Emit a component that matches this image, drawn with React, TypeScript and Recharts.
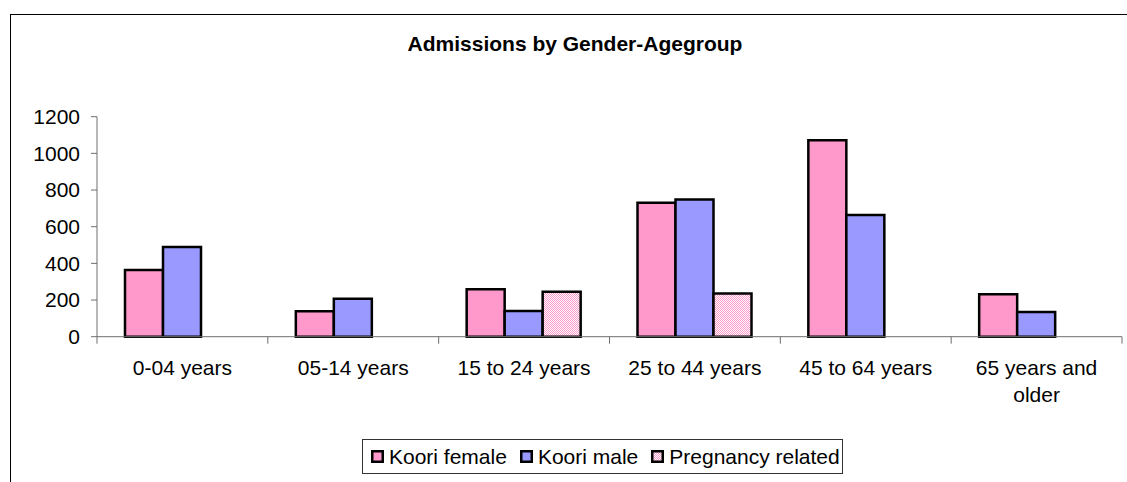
import React from 'react';
import { BarChart, Bar, XAxis, YAxis } from 'recharts';

const CATEGORIES = ['0-04 years', '05-14 years', '15 to 24 years', '25 to 44 years', '45 to 64 years', '65 years and older'];
const KOORI_FEMALE = [364, 139, 259, 731, 1071, 231];
const KOORI_MALE = [489, 207, 140, 749, 664, 135];
const PREGNANCY_RELATED: (number | null)[] = [null, null, 245, 235, null, null];
const Y_TICKS = [0, 200, 400, 600, 800, 1000, 1200];
const SERIES_NAMES = ['Koori female', 'Koori male', 'Pregnancy related'];

const FONT = '"Liberation Sans", Arial, Helvetica, sans-serif';
const FS = 21;
const PINK = '#FF99CC';
const BLUE = '#9999FF';
const AXIS = '#6e6e6e';

const W = 1127;
const H = 482;
const MARGIN = { top: 116.7, right: 5, bottom: 115.3, left: 0 };
const Y_W = 97;
const X_H = 30;
const BAND = (W - MARGIN.left - Y_W - MARGIN.right) / CATEGORIES.length;

const data = CATEGORIES.map((c, i) => ({
  name: c,
  female: KOORI_FEMALE[i],
  male: KOORI_MALE[i],
  preg: PREGNANCY_RELATED[i],
}));

let measureCtx: CanvasRenderingContext2D | null = null;
function measure(s: string): number {
  if (!measureCtx) {
    const c = document.createElement('canvas');
    measureCtx = c.getContext('2d');
  }
  if (!measureCtx) return s.length * FS * 0.5;
  measureCtx.font = `${FS}px ${FONT}`;
  return measureCtx.measureText(s).width;
}

function wrap(label: string, maxW: number): string[] {
  const words = label.split(' ');
  const lines: string[] = [];
  let cur = '';
  for (const w of words) {
    const t = cur ? cur + ' ' + w : w;
    if (cur && measure(t) > maxW) {
      lines.push(cur);
      cur = w;
    } else {
      cur = t;
    }
  }
  if (cur) lines.push(cur);
  return lines;
}

function XTick(props: any) {
  const { x, y, payload, index, visibleTicksCount } = props;
  const left = x - BAND / 2;
  const right = x + BAND / 2;
  const lines = wrap(String(payload.value), BAND - 20);
  return (
    <g>
      <line x1={left} y1={y} x2={left} y2={y + 7} stroke={AXIS} strokeWidth={1} />
      {index === visibleTicksCount - 1 ? (
        <line x1={right} y1={y} x2={right} y2={y + 7} stroke={AXIS} strokeWidth={1} />
      ) : null}
      <text x={x} y={y + 38.5} textAnchor="middle" fill="#000" fontSize={FS} fontFamily={FONT}>
        {lines.map((l, i) => (
          <tspan key={i} x={x} dy={i === 0 ? 0 : 27}>
            {l}
          </tspan>
        ))}
      </text>
    </g>
  );
}

function Swatch({ fill }: { fill: string }) {
  return (
    <svg width={13} height={13} style={{ display: 'block' }}>
      <defs>
        <pattern id="pregPatternLegend" width={2} height={2} patternUnits="userSpaceOnUse">
          <rect x={0} y={0} width={2} height={2} fill="#ffffff" />
          <rect x={0} y={0} width={1} height={1} fill={PINK} />
          <rect x={1} y={1} width={1} height={1} fill={PINK} />
        </pattern>
      </defs>
      <rect x={1.25} y={1.25} width={10.5} height={10.5} fill={fill} stroke="#000" strokeWidth={2.5} />
    </svg>
  );
}

export default function App() {
  const fills = [PINK, BLUE, 'url(#pregPatternLegend)'];
  return (
    <div style={{ position: 'absolute', left: 0, top: 0, width: W, height: H, overflow: 'hidden', background: '#fff', fontFamily: FONT }}>
      <div style={{ position: 'absolute', left: 9.5, top: 13.5, width: 1300, height: 600, borderLeft: '1.5px solid #000', borderTop: '1.5px solid #000' }} />
      <svg style={{ position: 'absolute', left: 0, top: 0 }} width={W} height={80}>
        <text x={575} y={51} textAnchor="middle" fontWeight="bold" fontSize={FS} fontFamily={FONT} fill="#000">
          Admissions by Gender-Agegroup
        </text>
      </svg>
      <div style={{ position: 'absolute', left: 0, top: 0 }}>
        <BarChart width={W} height={H} data={data} margin={MARGIN} barGap={0} barSize={38}>
          <defs>
            <pattern id="pregPattern" width={2} height={2} patternUnits="userSpaceOnUse">
              <rect x={0} y={0} width={2} height={2} fill="#ffffff" />
              <rect x={0} y={0} width={1} height={1} fill={PINK} />
              <rect x={1} y={1} width={1} height={1} fill={PINK} />
            </pattern>
          </defs>
          <XAxis
            dataKey="name"
            height={X_H}
            interval={0}
            tickSize={0}
            tickMargin={0}
            tickLine={false}
            axisLine={{ stroke: AXIS, strokeWidth: 1 }}
            tick={<XTick />}
          />
          <YAxis
            width={Y_W}
            domain={[0, 1200]}
            ticks={Y_TICKS}
            interval={0}
            tickSize={6}
            tickMargin={11}
            axisLine={{ stroke: AXIS, strokeWidth: 1 }}
            tickLine={{ stroke: AXIS, strokeWidth: 1 }}
            tick={{ fill: '#000', fontSize: FS, fontFamily: FONT }}
          />
          <Bar dataKey="female" fill={PINK} stroke="#000" strokeWidth={2.5} isAnimationActive={false} />
          <Bar dataKey="male" fill={BLUE} stroke="#000" strokeWidth={2.5} isAnimationActive={false} />
          <Bar dataKey="preg" fill="url(#pregPattern)" stroke="#000" strokeWidth={2.5} isAnimationActive={false} />
        </BarChart>
      </div>
      <div
        style={{
          position: 'absolute',
          left: 362,
          top: 439,
          height: 33,
          border: '1px solid #333',
          display: 'flex',
          alignItems: 'center',
          paddingLeft: 8,
          paddingRight: 2,
          fontSize: FS,
          fontFamily: FONT,
          color: '#000',
          whiteSpace: 'nowrap',
          background: '#fff',
        }}
      >
        {SERIES_NAMES.map((n, i) => (
          <div key={n} style={{ display: 'flex', alignItems: 'center', marginLeft: i === 0 ? 0 : 13 }}>
            <Swatch fill={fills[i]} />
            <span style={{ marginLeft: 5, lineHeight: '33px' }}>{n}</span>
          </div>
        ))}
      </div>
    </div>
  );
}
